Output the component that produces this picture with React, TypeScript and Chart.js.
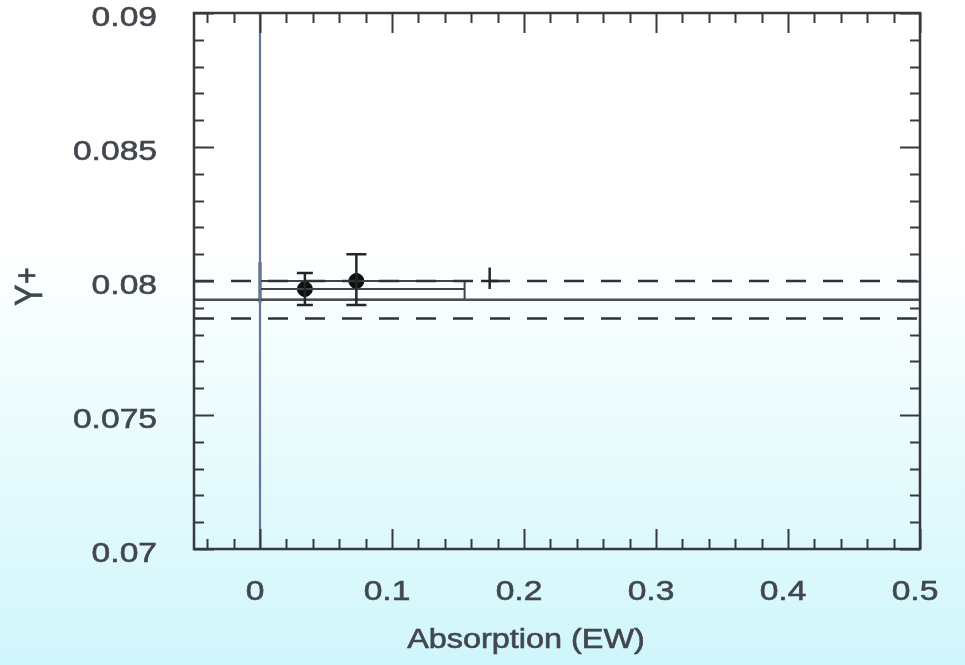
import React, { useEffect, useRef } from "react";
import { Chart, registerables } from "chart.js";

Chart.register(...registerables);

// ---- axis ranges & tick labels ----
const X_MIN = -0.05;
const X_MAX = 0.5;
const Y_MIN = 0.07;
const Y_MAX = 0.09;
const xTickValues = [0, 0.1, 0.2, 0.3, 0.4, 0.5];
const xTickLabels = ["0", "0.1", "0.2", "0.3", "0.4", "0.5"];
const yTickValues = [0.07, 0.075, 0.08, 0.085, 0.09];
const yTickLabels = ["0.07", "0.075", "0.08", "0.085", "0.09"];
const xTitle = "Absorption (EW)";
const yTitleMain = "Y";
const yTitleSup = "+";

// ---- data ----
const pointX = [0.034, 0.073];
const pointY = [0.0797, 0.08];
const pointYLow = [0.0791, 0.0791];
const pointYHigh = [0.0803, 0.081];
const pointCapHalf = [8, 10];
const pointXErrLow = [0, 0];
const pointXErrHigh = [0.155, 0.155];

const crossX = [0.174];
const crossY = [0.08];
const crossXErr = [0.0065];
const crossYLow = [0.0797];
const crossYHigh = [0.0805];

const boxX = [0, 0.155];
const boxY = [0.0793, 0.08];

const meanY = 0.0793;
const bandY = [0.0786, 0.08];

const zeroLineX = 0;
const zeroErrY = [0.0792, 0.0807];

const FONT = "'Liberation Sans', Arial, Helvetica, sans-serif";
const TEXT_COLOR = "#41474d";
const STRETCH = 1.2;

function drawStretched(
  ctx: CanvasRenderingContext2D,
  text: string,
  x: number,
  y: number,
  align: CanvasTextAlign,
  size: number
) {
  ctx.save();
  ctx.translate(x, y);
  ctx.scale(STRETCH, 1);
  ctx.font = `${size}px ${FONT}`;
  ctx.fillStyle = TEXT_COLOR;
  ctx.strokeStyle = TEXT_COLOR;
  ctx.lineWidth = 0.6;
  ctx.textAlign = align;
  ctx.textBaseline = "middle";
  ctx.fillText(text, 0, 0);
  ctx.strokeText(text, 0, 0);
  ctx.restore();
}

const framePlugin = {
  id: "frameTicks",
  afterDatasetsDraw(chart: any) {
    const ctx: CanvasRenderingContext2D = chart.ctx;
    const xs = chart.scales.x;
    const ys = chart.scales.y;
    const { left, right, top, bottom } = chart.chartArea;

    // error bars on points
    ctx.save();
    ctx.strokeStyle = "#262626";
    ctx.lineWidth = 2.5;
    pointX.forEach((vx, i) => {
      const px = xs.getPixelForValue(vx);
      const yl = ys.getPixelForValue(pointYLow[i]);
      const yh = ys.getPixelForValue(pointYHigh[i]);
      const c = pointCapHalf[i];
      ctx.beginPath();
      ctx.moveTo(px, yl);
      ctx.lineTo(px, yh);
      ctx.moveTo(px - c, yl);
      ctx.lineTo(px + c, yl);
      ctx.moveTo(px - c, yh);
      ctx.lineTo(px + c, yh);
      ctx.stroke();
    });
    // cross marker
    crossX.forEach((vx, i) => {
      const px = xs.getPixelForValue(vx);
      const py = ys.getPixelForValue(crossY[i]);
      ctx.beginPath();
      ctx.moveTo(xs.getPixelForValue(vx - crossXErr[i]), py);
      ctx.lineTo(xs.getPixelForValue(vx + crossXErr[i]), py);
      ctx.moveTo(px, ys.getPixelForValue(crossYLow[i]));
      ctx.lineTo(px, ys.getPixelForValue(crossYHigh[i]));
      ctx.stroke();
    });
    ctx.restore();

    // frame
    ctx.save();
    ctx.strokeStyle = "#363a3e";
    ctx.lineWidth = 2.5;
    ctx.strokeRect(left, top, right - left, bottom - top);

    // x ticks (inward, bottom & top)
    ctx.lineWidth = 2;
    ctx.beginPath();
    for (let i = -2; i <= 25; i++) {
      const v = i * 0.02;
      if (v < X_MIN - 1e-9 || v > X_MAX + 1e-9) continue;
      const major = i % 5 === 0;
      const len = major ? 20 : 10;
      const px = Math.round(xs.getPixelForValue(v)) + 0.5;
      ctx.moveTo(px, bottom);
      ctx.lineTo(px, bottom - len);
      ctx.moveTo(px, top);
      ctx.lineTo(px, top + len);
    }
    // y ticks (inward, left & right)
    for (let i = 70; i <= 90; i++) {
      const v = i / 1000;
      const major = i % 5 === 0;
      const len = major ? 20 : 10;
      const py = Math.round(ys.getPixelForValue(v)) + 0.5;
      ctx.moveTo(left, py);
      ctx.lineTo(left + len, py);
      ctx.moveTo(right, py);
      ctx.lineTo(right - len, py);
    }
    ctx.stroke();
    ctx.restore();

    // tick labels
    xTickValues.forEach((v, i) => {
      drawStretched(ctx, xTickLabels[i], xs.getPixelForValue(v) - 5, bottom + 43, "center", 28);
    });
    yTickValues.forEach((v, i) => {
      drawStretched(ctx, yTickLabels[i], left - 37, ys.getPixelForValue(v) + 5, "right", 28);
    });

    // axis titles
    drawStretched(ctx, xTitle, 526, 641, "center", 27);

    ctx.save();
    ctx.translate(31, 286);
    ctx.rotate(-Math.PI / 2);
    ctx.scale(1, STRETCH);
    ctx.fillStyle = TEXT_COLOR;
    ctx.strokeStyle = TEXT_COLOR;
    ctx.lineWidth = 0.6;
    ctx.textBaseline = "middle";
    ctx.textAlign = "left";
    ctx.font = `32px ${FONT}`;
    ctx.fillText(yTitleMain, -20, 0);
    ctx.strokeText(yTitleMain, -20, 0);
    const w = ctx.measureText(yTitleMain).width;
    ctx.font = `28px ${FONT}`;
    ctx.fillText(yTitleSup, -20 + w + 1, -2);
    ctx.strokeText(yTitleSup, -20 + w + 1, -2);
    ctx.restore();
  },
};

export default function App() {
  const ref = useRef<HTMLCanvasElement | null>(null);

  useEffect(() => {
    if (!ref.current) return;
    const line = (data: any[], color: string, width: number, dash: number[] = []) => ({
      type: "scatter" as const,
      data,
      showLine: true,
      borderColor: color,
      borderWidth: width,
      borderDash: dash,
      pointRadius: 0,
      fill: false,
    });

    const datasets: any[] = [
      line([{ x: zeroLineX, y: Y_MIN }, { x: zeroLineX, y: Y_MAX }], "#66759a", 2.2),
      line([{ x: zeroLineX, y: zeroErrY[0] }, { x: zeroLineX, y: zeroErrY[1] }], "#2f3644", 3),
      line([{ x: X_MIN, y: meanY }, { x: X_MAX, y: meanY }], "#4a4e53", 2.5),
      line([{ x: X_MIN, y: bandY[0] }, { x: X_MAX, y: bandY[0] }], "#2f3236", 2.5, [20, 17]),
      line([{ x: X_MIN, y: bandY[1] }, { x: X_MAX, y: bandY[1] }], "#2f3236", 2.5, [20, 17]),
      line(
        [
          { x: boxX[0], y: boxY[0] },
          { x: boxX[1], y: boxY[0] },
          { x: boxX[1], y: boxY[1] },
          { x: boxX[0], y: boxY[1] },
          { x: boxX[0], y: boxY[0] },
        ],
        "#404449",
        2
      ),
      ...pointX.map((vx, i) =>
        line(
          [
            { x: pointXErrLow[i], y: pointY[i] },
            { x: pointXErrHigh[i], y: pointY[i] },
          ],
          "#404449",
          2
        )
      ),
      {
        type: "scatter" as const,
        data: pointX.map((vx, i) => ({ x: vx, y: pointY[i] })),
        pointRadius: 7.5,
        pointBackgroundColor: "#0d0d0d",
        pointBorderColor: "#0d0d0d",
        showLine: false,
      },
    ];

    const chart = new Chart(ref.current, {
      type: "scatter",
      data: { datasets },
      options: {
        responsive: false,
        animation: false,
        layout: { padding: { left: 194, right: 45, top: 13, bottom: 116 } },
        plugins: { legend: { display: false }, tooltip: { enabled: false }, title: { display: false } },
        scales: {
          x: { type: "linear", min: X_MIN, max: X_MAX, display: false },
          y: { type: "linear", min: Y_MIN, max: Y_MAX, display: false },
        },
      },
      plugins: [framePlugin],
    });
    return () => chart.destroy();
  }, []);

  return (
    <div
      style={{
        position: "fixed",
        left: 0,
        top: 0,
        width: 965,
        height: 665,
        background:
          "linear-gradient(to bottom, #ffffff 0%, #ffffff 36%, #e8fbfd 68%, #cff6fb 100%)",
      }}
    >
      <canvas ref={ref} width={965} height={665} style={{ display: "block" }} />
    </div>
  );
}
